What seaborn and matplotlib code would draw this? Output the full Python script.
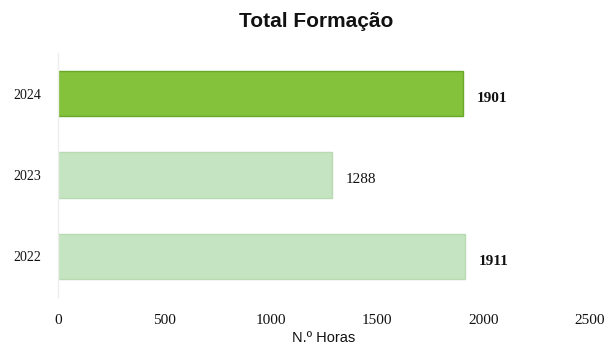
import matplotlib
matplotlib.use("Agg")
import matplotlib.pyplot as plt
import seaborn as sns
import pandas as pd

years = ["2024", "2023", "2022"]
hours = [1901, 1288, 1911]
bar_colors = ["#84c23c", "#c5e4c1", "#c5e4c1"]
x_ticks = [0, 500, 1000, 1500, 2000, 2500]

df = pd.DataFrame({"ano": years, "horas": hours})

sns.set_theme(style="white")
plt.rcParams["font.family"] = ["DejaVu Sans"]

fig = plt.figure(figsize=(6.09, 3.49), dpi=100)
ax = fig.add_axes([0.095, 0.149, 0.874, 0.699])

sns.barplot(data=df, x="horas", y="ano", hue="ano", palette=bar_colors,
            order=years, hue_order=years, width=0.56, legend=False,
            saturation=1, ax=ax, orient="h")

# darker outline on the highlighted year
for patch, ec in zip(ax.patches, ["#6aa82a", "#b8dbb4", "#b8dbb4"]):
    patch.set_edgecolor(ec)
    patch.set_linewidth(1.0)

for i, v in enumerate(hours):
    ax.text(v + 65, i + 0.06, str(v), va="center", ha="left",
            fontsize=11, fontweight="bold" if i != 1 else "normal",
            family="Liberation Serif", color="#111111")

ax.set_xlim(0, 2500)
ax.set_ylim(2.5, -0.5)
ax.set_xticks(x_ticks)
ax.set_xticklabels([str(t) for t in x_ticks], family="Liberation Serif", fontsize=11)
ax.set_yticks(range(len(years)))
ax.set_yticklabels(years, family="Liberation Serif", fontsize=10)
ax.tick_params(axis="x", length=0, pad=12, colors="#111111")
ax.tick_params(axis="y", length=0, pad=12, colors="#111111")
ax.set_xlabel("N.º Horas", fontsize=10.5, family="Liberation Sans", labelpad=3, color="#111111")
ax.set_ylabel("")

for side in ["top", "right", "bottom"]:
    ax.spines[side].set_visible(False)
ax.spines["left"].set_color("#eeeeee")
ax.spines["left"].set_linewidth(1.0)

fig.text(0.52, 0.937, "Total Formação", ha="center", va="center",
         fontsize=15, fontweight="bold", family="Liberation Sans", color="#111111")

fig.savefig("out.png", dpi=100)
